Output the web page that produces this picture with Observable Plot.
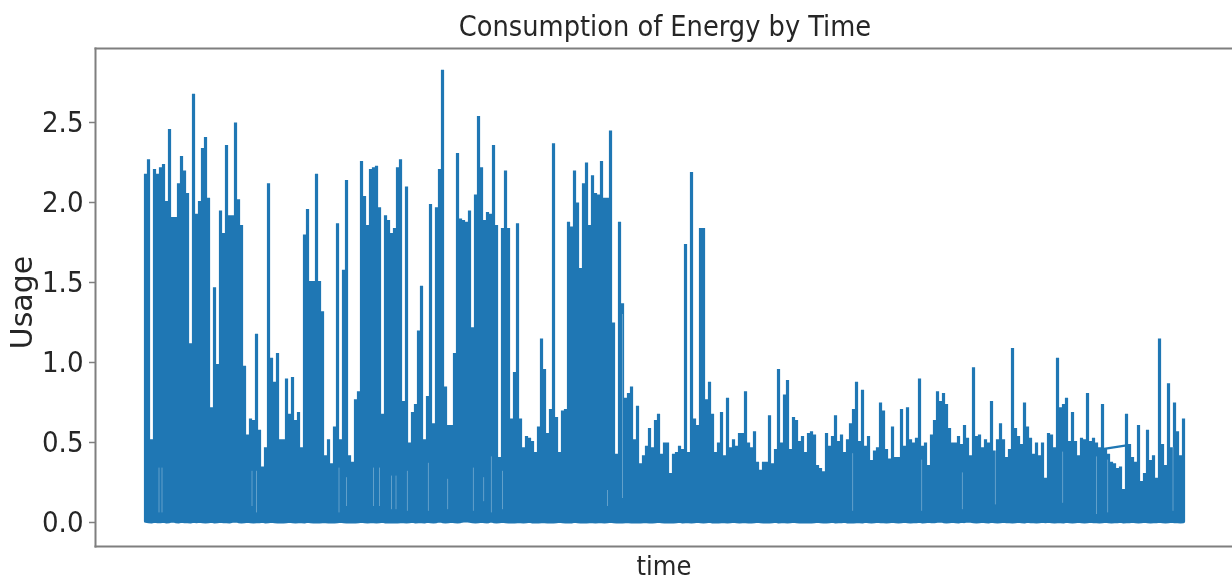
<!DOCTYPE html>
<html>
<head>
<meta charset="utf-8">
<script src="https://cdn.jsdelivr.net/npm/d3@7"></script>
<script src="https://cdn.jsdelivr.net/npm/@observablehq/plot@0.6"></script>
<style>
html,body{margin:0;padding:0;background:#fff;}
svg{display:block;filter:blur(0.6px);}
</style>
</head>
<body>
<div id="chart"></div>
<script>
const chartTitle = "Consumption of Energy by Time";
const yLabel = "Usage";
const xLabel = "time";
const yTicks = [0, 0.5, 1, 1.5, 2, 2.5];

const usagePeaksA = [2.18,2.27,0.52,2.21,2.18,2.22,2.24,2.01,2.46,1.91,1.91,2.12,2.29,2.20,2.06,1.12,2.68,1.93,2.01,2.34,2.41,2.03,0.72,1.47,0.99,1.95,1.81,2.36,1.92,1.92,2.50,2.02,1.86,0.98,0.55,0.65,0.64,1.18,0.58,0.35,0.47,2.12,1.03,0.88,1.06,0.52,0.52,0.90,0.68,0.91,0.64,0.69,0.47,1.80,1.96,1.51,1.51,2.18,1.51,1.32,0.42,0.52,0.37,0.60,1.87,0.52,1.58,2.14,0.42,0.38,0.77,0.82,2.26,2.04,1.86,2.21,2.22,2.23,1.97,0.68,1.92,1.89,1.81,1.84,2.22,2.27];
const usagePeaksB = [0.76,2.10,0.50,0.69,0.74,1.20,1.48,0.52,0.79,1.99,0.62,1.97,2.21,2.83,0.85,0.61,0.61,1.06,2.31,1.90,1.89,1.88,1.95,1.22,2.05,2.54,2.22,1.89,1.94,1.93,2.36,1.86,0.41,1.84,2.20,1.84,0.65,0.94,1.87,0.65,0.47,0.54,0.53,0.51,0.44,0.60,1.15,0.96,0.56,0.71,2.37,0.66,0.44,0.70,0.71,1.88,1.85,2.20,2.00,1.59,2.12,2.25,1.86,2.17,2.06,2.05,2.26,2.03,2.03,2.45,1.25,0.43,1.88,1.37,0.78,0.81,0.85,0.52,0.73,0.37,0.42,0.48,0.59,0.47,0.64,0.68,0.43,0.50,0.50,0.31];
const usagePeaksC = [0.43,0.44,0.48,0.46,1.74,0.44,2.19,0.65,0.61,1.84,1.84,0.77,0.88,0.68,0.44,0.50,0.69,0.42,0.78,0.47,0.52,0.48,0.56,0.56,0.82,0.50,0.47,0.57,0.38,0.33,0.38,0.38,0.67,0.37,0.46,0.96,0.50,0.80,0.89,0.46,0.66,0.64,0.51,0.54,0.44,0.56,0.57,0.55,0.36,0.34,0.32,0.56,0.48,0.54,0.67,0.51,0.55,0.44,0.52,0.62,0.71,0.88,0.51,0.83,0.48,0.54,0.39,0.45,0.47,0.75,0.70,0.46,0.40,0.60,0.41,0.41,0.71,0.48,0.72,0.52,0.50,0.53,0.90,0.48,0.50,0.36];
const usagePeaksD = [0.55,0.64,0.82,0.76,0.81,0.74,0.59,0.50,0.50,0.54,0.49,0.61,0.53,0.42,0.97,0.54,0.55,0.47,0.52,0.50,0.76,0.45,0.52,0.62,0.52,0.41,0.46,1.09,0.59,0.54,0.49,0.75,0.60,0.53,0.43,0.50,0.42,0.50,0.28,0.56,0.55,0.47,1.03,0.72,0.74,0.78,0.51,0.69,0.51,0.42,0.53,0.52,0.81,0.51,0.53,0.50,0.47,0.74,0.46,0.43,0.38,0.37,0.34,0.35,0.21,0.68,0.49,0.41,0.38,0.61,0.26,0.31,0.58,0.39,0.42,0.28,1.15,0.49,0.36,0.87,0.47,0.75,0.57,0.42,0.65];
const usageLows = [
.008,.006,.004,.008,.006,.006,.008,.004,.006,.01,.006,.004,.008,.006,.006,.004,.008,.006,.008,.006,.004,.006,.008,.004,.006,.008,.006,.006,.004,.008,.01,.006,.004,.006,.008,.006,.004,.006,.006,.008,.004,.006,.008,.006,.004,.006,.004,.006,.008,.006,
.004,.006,.006,.004,.008,.006,.004,.006,.004,.006,.006,.004,.006,.004,.006,.008,.006,.004,.006,.004,.004,.006,.008,.006,.004,.006,.006,.004,.006,.008,.004,.006,.004,.006,.004,.006,.006,.004,.006,.008,.004,.006,.006,.004,.008,.006,.004,.006,.01,.006,
.004,.006,.008,.006,.004,.006,.01,.012,.008,.006,.004,.006,.008,.006,.004,.01,.006,.004,.006,.008,.006,.004,.006,.004,.006,.006,.004,.006,.008,.004,.006,.004,.006,.006,.004,.006,.004,.006,.008,.006,.004,.006,.004,.008,.006,.004,.006,.004,.006,.006,
.004,.006,.006,.004,.006,.008,.006,.004,.006,.004,.006,.006,.004,.004,.006,.004,.006,.006,.004,.004,.006,.008,.006,.004,.004,.006,.004,.006,.008,.004,.006,.006,.004,.006,.008,.006,.004,.006,.008,.004,.006,.004,.006,.006,.004,.006,.008,.006,.004,.006,
.006,.004,.004,.006,.008,.006,.004,.006,.004,.006,.008,.004,.006,.006,.004,.006,.008,.006,.004,.006,.004,.006,.004,.006,.008,.006,.004,.004,.006,.008,.004,.006,.006,.008,.004,.006,.004,.006,.006,.004,.008,.006,.004,.006,.008,.006,.006,.004,.006,.008,
.006,.004,.006,.008,.006,.004,.006,.006,.008,.004,.006,.008,.006,.006,.008,.01,.006,.004,.006,.008,.006,.004,.008,.006,.01,.008,.006,.004,.006,.008,.006,.004,.008,.006,.004,.006,.008,.006,.006,.004,.006,.008,.006,.004,.008,.006,.006,.004,.006,.008,
.006,.008,.006,.004,.006,.006,.004,.008,.006,.004,.006,.008,.006,.004,.006,.008,.006,.006,.004,.006,.008,.006,.004,.006,.006,.008,.004,.006,.006,.008,.006,.004,.006,.008,.006,.004,.006,.006,.008,.006,.004,.006,.008,.006,.006,.004,.006
];
// stretch where the recording stops: one straight run across the gap
const gapTimes = [319.5, 326.5];
const gapUsage = [0.46, 0.48];
// paler slits low inside the solid mass: time, top and bottom usage
const slitTimes = [4.5,5.5,35.5,37,64.5,67,76,78,82,83.5,87.3,94.3,100.7,109.3,112.7,115.3,119,154,159,235.7,258.7,272.3,283.3,305.7,317,320.7,342.5];
const slitTops =  [0.34,0.34,0.32,0.32,0.34,0.28,0.34,0.34,0.29,0.29,0.32,0.37,0.27,0.34,0.28,0.41,0.32,0.2,1.3,0.43,0.39,0.31,0.45,0.44,0.41,0.39,0.47];
const slitEnds =  [0.06,0.06,0.10,0.06,0.06,0.10,0.10,0.10,0.08,0.08,0.07,0.07,0.08,0.07,0.13,0.06,0.08,0.10,0.15,0.07,0.07,0.08,0.11,0.12,0.05,0.06,0.07];

const usagePeaks = [...usagePeaksA, ...usagePeaksB, ...usagePeaksC, ...usagePeaksD];
// each reading is a near-vertical run: baseline, up to the peak, back to baseline
const table = usagePeaks.flatMap((peak, i) => {
  const low = usageLows[i] ?? 0.006;
  return [{time: i, usage: low}, {time: i, usage: peak}, {time: i, usage: low}];
});
const gapTable = gapTimes.map((time, i) => ({time, usage: gapUsage[i]}));
const slitTable = slitTimes.map((time, i) => ({time, top: slitTops[i], end: slitEnds[i]}));

const blue = "#1f77b4";
const ink = "#262626";
const spine = "#7f7f7f";
const condensed = "'DejaVu Sans Condensed','DejaVu Sans',sans-serif";

const chart = Plot.plot({
  width: 1232,
  height: 581,
  marginTop: 48,
  marginBottom: 35,
  marginLeft: 95,
  marginRight: 0,
  style: {fontFamily: condensed, color: ink, background: "#fff"},
  x: {domain: [-16.67, 362.33], axis: null},
  y: {domain: [-0.15, 2.9625], axis: null},
  marks: [
    Plot.line(gapTable, {x: "time", y: "usage", stroke: blue, strokeWidth: 2.2}),
    Plot.line(table, {x: "time", y: "usage", stroke: blue, strokeWidth: 3.2, strokeLinejoin: "miter"}),
    Plot.ruleX(slitTable, {x: "time", y1: "end", y2: "top", stroke: "#fff", strokeOpacity: 0.3, strokeWidth: 1}),
    Plot.frame({anchor: "left", stroke: spine, strokeWidth: 2}),
    Plot.frame({anchor: "top", stroke: spine, strokeWidth: 2}),
    Plot.frame({anchor: "bottom", stroke: spine, strokeWidth: 2}),
    Plot.axisY({
      ticks: yTicks, tickFormat: d3.format(".1f"), tickSize: 6, tickPadding: 6,
      fontSize: 29, stroke: spine, strokeWidth: 1.5, label: null
    }),
    Plot.axisX({
      ticks: [], label: xLabel, labelAnchor: "center", labelArrow: "none",
      labelOffset: 28, fontSize: 27
    }),
    Plot.text([yLabel], {
      frameAnchor: "left", dx: -73, dy: 5, rotate: -90, fontSize: 30, fill: ink, text: d => d,
      textAnchor: "middle", fontFamily: "'DejaVu Sans',sans-serif"
    }),
    Plot.text([chartTitle], {
      frameAnchor: "top", dx: 1, dy: -33, fontSize: 28.6, fill: ink, text: d => d, lineAnchor: "top"
    })
  ]
});
document.getElementById("chart").append(chart);
</script>
</body>
</html>
